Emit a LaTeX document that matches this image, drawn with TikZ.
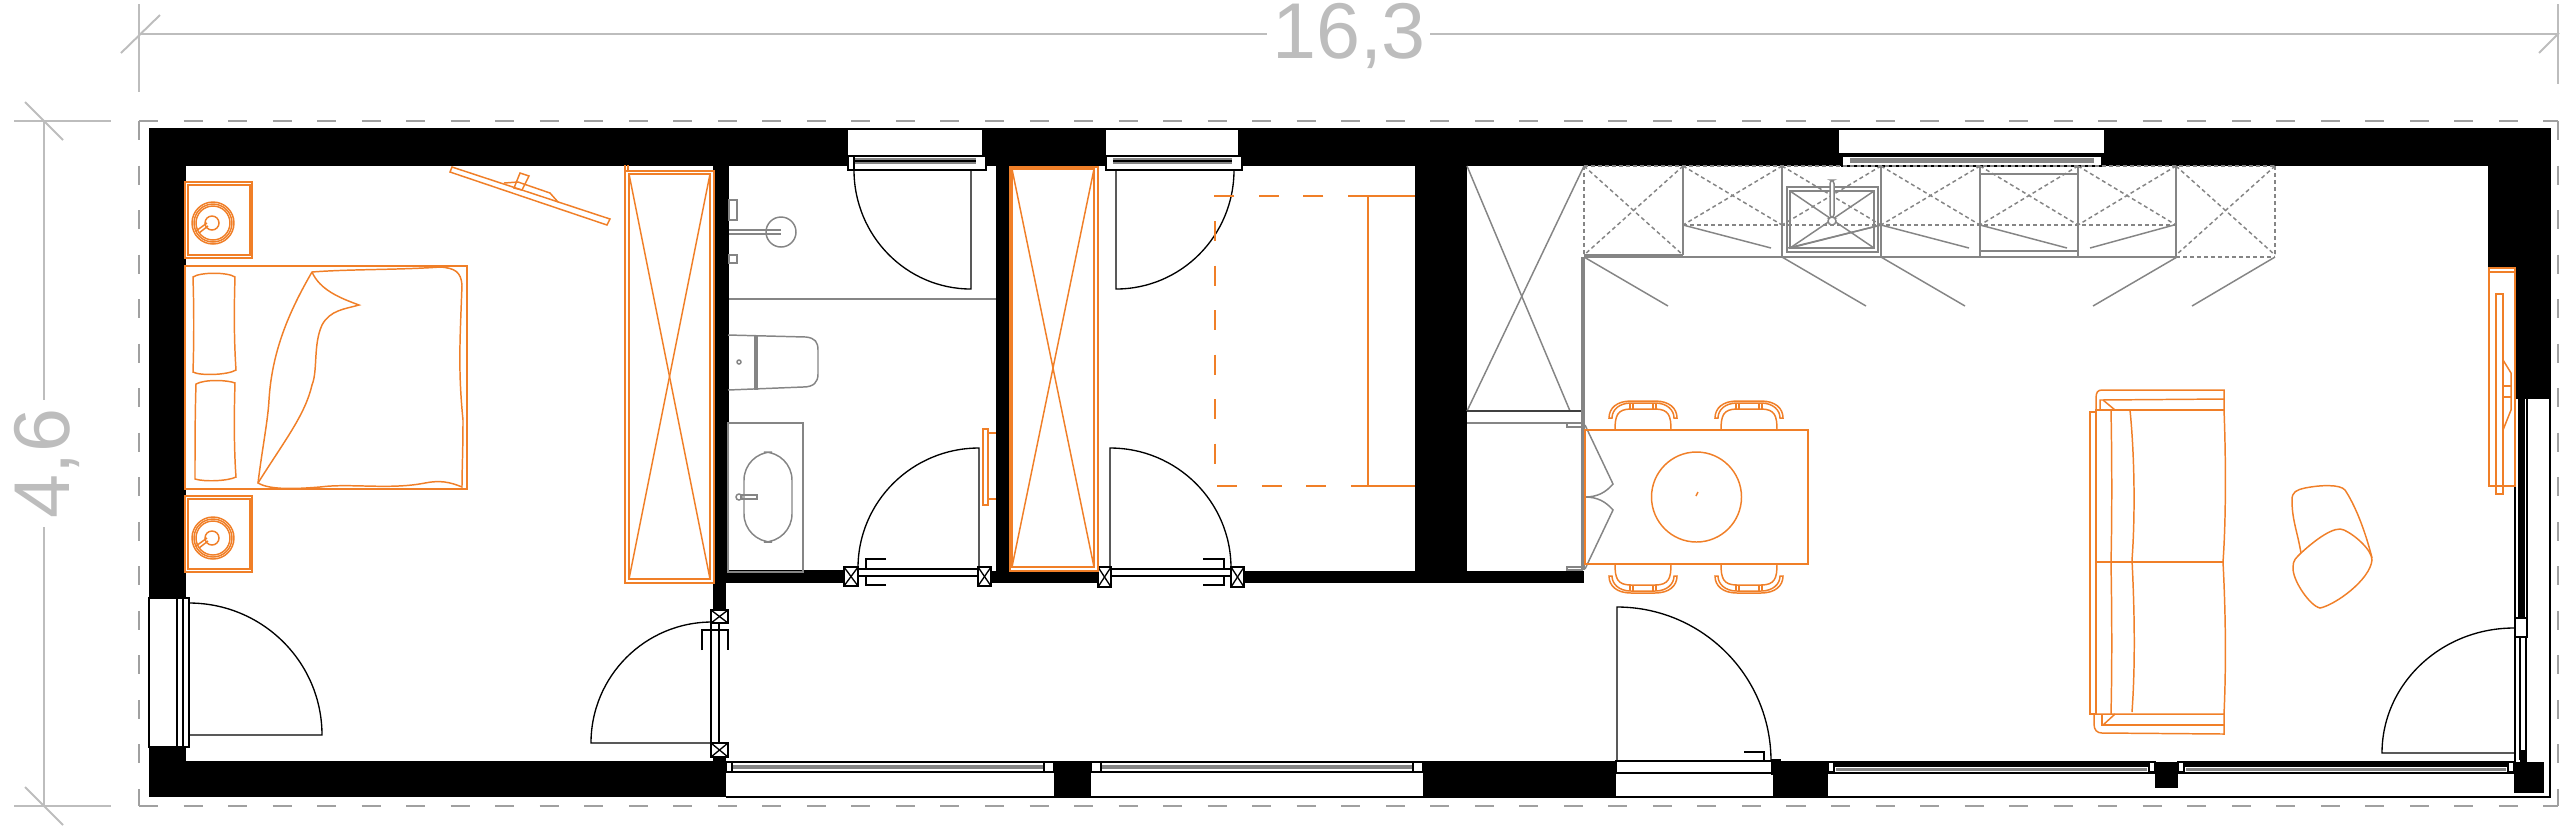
\documentclass[tikz,border=0pt]{standalone}
\usepackage{fontspec}
\setmainfont{Liberation Sans}
\definecolor{planorange}{HTML}{F07F28}
\definecolor{fitgray}{HTML}{858585}
\definecolor{dimgray}{HTML}{BDBDBD}
\definecolor{dashgray}{HTML}{A0A0A0}
\tikzset{
    dimline/.style={draw=dimgray,line width=0.55pt},
    dimtext/.style={text=dimgray,font=\fontsize{22.5pt}{27pt}\selectfont,inner sep=0pt},
    outline/.style={draw=dashgray,line width=0.55pt,dash pattern=on 0.19cm off 0.255cm},
    furn/.style={draw=planorange,line width=0.42pt},
    furnthick/.style={draw=planorange,line width=0.6pt},
    furndash/.style={draw=planorange,line width=0.5pt,dash pattern=on 0.2cm off 0.245cm},
    fitting/.style={draw=fitgray,line width=0.42pt},
    fitdash/.style={draw=fitgray,line width=0.42pt,dash pattern=on 0.04cm off 0.03cm},
    doorline/.style={draw=black,line width=0.38pt},
    jamb/.style={draw=black,line width=0.38pt,fill=white}
}
\begin{document}
\begin{tikzpicture}[x=0.01cm,y=-0.01cm]
    \useasboundingbox (0,0) rectangle (2560,826);

    % dimensions
    \draw [dimline] (139,4) -- (139,92);
    \draw [dimline] (121,53) -- (160,15);
    \draw [dimline] (139,34) -- (1267,34);
    \draw [dimline] (1430,34) -- (2558,34);
    \draw [dimline] (2558,4) -- (2558,84);
    \draw [dimline] (2539,53) -- (2559,33);
    \node [dimtext,anchor=base] (widthlabel) at (1349,58) {16,3};
    \draw [dimline] (14,121) -- (111,121);
    \draw [dimline] (25,102) -- (63,140);
    \draw [dimline] (44,121) -- (44,400);
    \draw [dimline] (44,527) -- (44,806);
    \draw [dimline] (14,806) -- (111,806);
    \draw [dimline] (25,787) -- (63,825);
    \node [dimtext,rotate=90,anchor=base] (depthlabel) at (69,463) {4,6};

    \draw [outline] (139,121) -- (2558,121);
    \draw [outline] (139,121) -- (139,806);
    \draw [outline] (139,806) -- (2558,806);
    \draw [outline] (2558,121) -- (2558,806);

    % walls
    \fill (149,129) rectangle (2549,166);
    \fill (149,129) rectangle (186,598);
    \fill (149,747) rectangle (186,797);
    \fill (149,761) rectangle (726,797);
    \fill (713,166) rectangle (729,583);
    \fill (713,583) rectangle (726,610);
    \fill (713,745) rectangle (726,761);
    \fill (729,570) rectangle (850,583);
    \fill (996,166) rectangle (1010,571);
    \fill (991,571) rectangle (1098,583);
    \fill (1243,571) rectangle (1584,583);
    \fill (1415,166) rectangle (1467,571);
    \fill (2488,166) rectangle (2515,269);
    \fill (2515,166) rectangle (2549,398);
    \fill (1054,761) rectangle (1091,797);
    \fill (1423,761) rectangle (1616,797);
    \fill (1773,761) rectangle (1828,797);
    \fill (2155,762) rectangle (2178,788);
    \fill (2514,762) rectangle (2544,793);
    \draw [doorline] (149,129) -- (2550,129) -- (2550,797) -- (726,797);

    % top windows
    \foreach \xa/\xb in {848/982,1106/1238}{
        \fill [white] (\xa,130) rectangle (\xb,156);
        \draw [jamb] (\xa,156) rectangle (\xb+4,170);
        \fill [fitgray] (\xa+7,158) rectangle (\xb-6,164);
        \draw [doorline] (\xa+7,161) -- (\xb-6,161);
    }
    \fill [white] (1839,130) rectangle (2104,154);
    \draw [doorline] (1839,154) -- (2104,154);
    \draw [jamb] (1842,156) rectangle (2102,166);
    \fill [fitgray] (1850,158) rectangle (2094,163);

    % low windows
    \foreach \xa/\xb in {726/1054,1091/1423}{
        \draw [doorline] (\xa,762) -- (\xb,762);
        \fill [fitgray] (\xa+6,765) rectangle (\xb-8,769);
        \draw [doorline] (\xa,772) -- (\xb,772);
        \draw [jamb] (\xb-10,762) rectangle (\xb,772);
    }
    \foreach \xa/\xb in {1091/1423}
        \draw [jamb] (\xa,762) rectangle (\xa+10,772);
    \draw [jamb] (726,762) rectangle (732,772);
    \foreach \xa/\xb in {1828/2155,2178/2514}{
        \fill (\xa+4,761) rectangle (\xb-4,767);
        \fill [fitgray] (\xa+8,768) rectangle (\xb-8,771);
        \draw [doorline] (\xa,773) -- (\xb,773);
        \draw [jamb] (\xa,762) rectangle (\xa+6,772);
        \draw [jamb] (\xb-6,762) rectangle (\xb,772);
    }

    % right window
    \draw [doorline] (2515,398) -- (2515,762);
    \draw [doorline] (2515,398) -- (2549,398);
    \fill (2518,398) rectangle (2525,617);
    \draw [doorline] (2527,398) -- (2527,618);
    \draw [jamb] (2515,618) rectangle (2527,637);
    \draw [doorline] (2520,637) -- (2520,760);
    \draw [doorline] (2526,637) -- (2526,760);
    \fill (2520,750) rectangle (2527,762);

    % doors
    \draw [jamb] (149,598) rectangle (177,747);
    \draw [jamb] (177,598) rectangle (183,747);
    \draw [jamb] (183,598) rectangle (189,747);
    \draw [doorline] (189,603) arc [start angle=90,end angle=0,x radius=133,y radius=-132] -- (189,735);
    \draw [jamb] (711,623) rectangle (719,743);
    \draw [doorline] (712,622) arc [start angle=90,end angle=180,x radius=121,y radius=-121] -- (712,743);
    \draw [jamb] (848,156) rectangle (854,170);
    \draw [doorline] (971,170) -- (971,289) arc [start angle=270,end angle=180,x radius=117,y radius=-119];
    \draw [doorline] (1116,170) -- (1116,289) arc [start angle=-90,end angle=0,x radius=118,y radius=-119];
    \draw [jamb] (858,569) rectangle (979,576);
    \draw [doorline] (979,568) -- (979,448) arc [start angle=90,end angle=180,x radius=121,y radius=-120];
    \draw [jamb] (1110,569) rectangle (1231,576);
    \draw [doorline] (1110,568) -- (1110,448) arc [start angle=90,end angle=0,x radius=121,y radius=-120];
    \draw [jamb] (1616,761) rectangle (1773,773);
    \draw [doorline] (1617,761) -- (1617,607) arc [start angle=90,end angle=0,x radius=154,y radius=-154];
    \draw [doorline] (2514,753) -- (2382,753) arc [start angle=180,end angle=90,x radius=132,y radius=-125];

    % door jambs
    \foreach \xa/\ya/\xb/\yb in {711/610/728/623,711/743/728/757,844/567/858/586,978/567/991/586,1098/567/1111/587,1231/567/1244/587}{
        \draw [jamb,fill=white] (\xa,\ya) rectangle (\xb,\yb);
        \draw [doorline] (\xa,\ya) -- (\xb,\yb);
        \draw [doorline] (\xa,\yb) -- (\xb,\ya);
    }
    \fill (177,752) rectangle (186,747);
    \fill (1771,759) rectangle (1781,775);

    % door handles
    \draw [doorline,line width=0.6pt] (702,650) -- (702,630) -- (728,630) -- (728,650);
    \draw [doorline,line width=0.6pt] (886,559) -- (866,559) -- (866,569);
    \draw [doorline,line width=0.6pt] (886,585) -- (866,585) -- (866,576);
    \draw [doorline,line width=0.6pt] (1203,559) -- (1224,559) -- (1224,569);
    \draw [doorline,line width=0.6pt] (1203,585) -- (1224,585) -- (1224,576);
    \draw [doorline,line width=0.6pt] (1744,752) -- (1764,752) -- (1764,761);

    % bedroom
    \foreach \ly in {182,496}{
        \draw [furnthick] (185,\ly) rectangle (252,\ly+76);
        \draw [furnthick] (188,\ly+3) rectangle (250,\ly+73);
    }
    \foreach \ly in {223,538}{
        \foreach \lr in {21,19,17}
            \draw [furn] (213,\ly) circle [radius=\lr];
        \draw [furn] (212,\ly) circle [radius=7];
        \draw [furn] (207,\ly) -- (196,\ly+8);
        \draw [furn] (208,\ly+3) -- (199,\ly+10);
    }
    \draw [furn] (185,266) rectangle (467,489);
    \draw [furn] (193,277) .. controls (200,272) and (228,272) .. (235,277) .. controls (234,310) and (234,340) .. (236,370) .. controls (228,375) and (200,376) .. (193,372) .. controls (194,340) and (194,310) .. (193,277) -- cycle;
    \draw [furn] (196,384) .. controls (205,379) and (228,380) .. (235,383) .. controls (234,415) and (234,450) .. (236,477) .. controls (228,481) and (205,482) .. (195,479) .. controls (195,450) and (195,415) .. (196,384) -- cycle;
    \draw [furn] (312,272) .. controls (350,269) and (400,270) .. (440,267) .. controls (455,268) and (461,272) .. (462,285) .. controls (460,340) and (458,370) .. (463,420) .. controls (463,450) and (462,470) .. (462,487) .. controls (450,482) and (440,480) .. (425,483) .. controls (390,490) and (350,483) .. (320,487) .. controls (295,489) and (270,490) .. (258,483) .. controls (262,450) and (268,420) .. (269,400) .. controls (272,350) and (290,310) .. (312,272) -- cycle;
    \draw [furn] (312,272) .. controls (320,290) and (340,298) .. (359,305) .. controls (345,309) and (330,310) .. (322,325) .. controls (313,345) and (318,370) .. (312,385) .. controls (305,415) and (285,440) .. (258,483);
    \draw [furn] (452,167) -- (450,172) -- (607,225) -- (610,219) -- cycle;
    \draw [furn] (504,183) -- (518,182) -- (550,193) -- (558,202);
    \draw [furn] (520,173) -- (529,176) -- (522,190) -- (514,188) -- cycle;

    % wardrobes
    \draw [furn] (625,165) -- (625,583) -- (714,583) -- (714,171) -- (625,171);
    \draw [furn] (628,165) -- (628,171);
    \draw [furnthick] (629,174) rectangle (710,579);
    \draw [furn] (629,174) -- (710,579);
    \draw [furn] (710,174) -- (629,579);
    \draw [furn] (1010,167) rectangle (1098,571);
    \draw [furn] (1012,169) rectangle (1094,567);
    \draw [furn] (1012,169) -- (1094,567);
    \draw [furn] (1094,169) -- (1012,567);
    \draw [furn] (988,433) -- (996,433);
    \draw [furn] (988,499) -- (996,499);
    \draw [furn] (983,429) rectangle (988,505);

    % bed in second room
    \draw [furndash] (1368,196) -- (1215,196) -- (1215,486) -- (1368,486);
    \draw [furn] (1415,196) -- (1368,196) -- (1368,486) -- (1415,486);

    % bathroom
    \draw [fitting] (729,299) -- (996,299);
    \draw [fitting] (781,232) circle [radius=15];
    \draw [fitting] (729,230) -- (781,230);
    \draw [fitting] (729,234) -- (781,234);
    \draw [fitting] (729,200) rectangle (737,220);
    \draw [fitting] (729,255) rectangle (737,263);
    \draw [fitting] (728,335) -- (806,337) .. controls (815,338) and (818,342) .. (818,350) -- (818,374) .. controls (818,382) and (814,387) .. (803,387) -- (728,390);
    \draw [fitting] (755,335) -- (755,390);
    \draw [fitting] (757,335) -- (757,390);
    \draw [fitting] (739,362) circle [radius=2];
    \draw [fitting] (728,423) rectangle (803,572);
    \draw [fitting,rounded corners=8] (744,452) rectangle (792,542);
    \draw [fitting] (739,497) circle [radius=3];
    \draw [fitting] (741,495) rectangle (757,499);

    % kitchen
    \draw [fitting] (1467,166) -- (1570,411);
    \draw [fitting] (1584,166) -- (1467,411);
    \draw [draw=black!75,line width=0.6pt] (1467,411) -- (1584,411);
    \draw [fitting] (1467,423) -- (1584,423);
    \draw [fitting] (1582,257) -- (1582,570);
    \draw [fitting] (1584,257) -- (1584,570);
    \draw [fitting] (1567,423) rectangle (1582,427);
    \draw [fitting] (1567,567) rectangle (1582,570);
    \draw [fitting] (1585,425) -- (1613,484) .. controls (1606,492) and (1598,497) .. (1585,497);
    \draw [fitting] (1585,497) .. controls (1598,497) and (1606,502) .. (1613,510) -- (1585,569);
    \foreach \xa/\xb in {1683/1782,1782/1881,1881/1980,1980/2078,2078/2176}{
        \draw [fitdash] (\xa,166) -- (\xb,225);
        \draw [fitdash] (\xb,166) -- (\xa,225);
    }
    \foreach \xa/\xb in {1584/1683,2176/2275}{
        \draw [fitdash] (\xa,166) -- (\xb,255);
        \draw [fitdash] (\xb,166) -- (\xa,255);
    }
    \draw [fitdash] (1683,225) -- (2176,225);
    \draw [fitdash] (1584,166) -- (1584,257);
    \draw [fitdash] (2275,166) -- (2275,257);
    \draw [fitdash] (2176,257) -- (2275,257);
    \draw [fitdash] (1584,166) -- (2275,166);
    \foreach \cabx in {1782,1881,1980,2078}
        \draw [fitting] (\cabx,166) -- (\cabx,257);
    \draw [fitting,line width=0.7pt] (1683,166) -- (1683,255);
    \draw [fitting,line width=0.7pt] (2176,166) -- (2176,257);
    \draw [fitting,line width=0.7pt] (1584,255) -- (1683,255);
    \draw [fitting] (1584,257) -- (2176,257);
    \draw [fitting] (1980,174) -- (2078,174);
    \draw [fitting] (1980,251) -- (2078,251);
    \foreach \xa/\xb in {1683/1771,1881/1788,1881/1969,1980/2067,2174/2090}
        \draw [fitting] (\xa,225) -- (\xb,248);
    \foreach \xa/\xb in {1584/1668,1782/1866,1881/1965,2177/2093,2275/2192}
        \draw [fitting] (\xa,257) -- (\xb,306);
    \draw [fitting,line width=0.6pt] (1787,187) rectangle (1878,252);
    \draw [fitting,line width=0.6pt] (1790,191) rectangle (1874,248);
    \draw [fitting] (1790,191) -- (1874,248);
    \draw [fitting] (1874,191) -- (1790,248);
    \draw [fitting] (1790,248) -- (1881,225);
    \draw [fitting,rounded corners=1,fill=white] (1830,180) rectangle (1834,218);
    \draw [fitting,fill=white] (1832,221) circle [radius=4];

    % table and chairs
    \draw [furnthick] (1585,430) rectangle (1808,564);
    \draw [furn] (1696.5,497) circle [radius=45];
    \draw [furn] (1696,496) -- (1698,492);
    \foreach \cx/\cy/\cs in {1643/430/-1,1749/430/-1,1643/564/1,1749/564/1}{
        \begin{scope}[shift={(\cx,\cy)},yscale=\cs]
            \draw [furn] (-28,0) .. controls (-28,14) and (-26,21) .. (-12,21) -- (12,21) .. controls (26,21) and (28,14) .. (28,0);
            \draw [furn] (-34,12) .. controls (-34,22) and (-26,29) .. (-12,29) -- (12,29) .. controls (26,29) and (34,22) .. (34,12) -- (31,12) .. controls (31,20) and (24,27) .. (12,27) -- (-12,27) .. controls (-24,27) and (-31,20) .. (-31,12) -- cycle;
            \draw [furn] (-13,21) -- (-13,27);
            \draw [furn] (-10,21) -- (-10,27);
            \draw [furn] (10,21) -- (10,27);
            \draw [furn] (13,21) -- (13,27);
        \end{scope}
    }

    % sofa
    \draw [furn] (2090,412) rectangle (2096,714);
    \draw [furn] (2096,562) .. controls (2096,500) and (2096,450) .. (2096,410) -- (2224,410);
    \draw [furn] (2224,410) .. controls (2226,460) and (2226,520) .. (2223,562) .. controls (2226,620) and (2226,670) .. (2224,714) -- (2096,714) -- (2096,562);
    \draw [furn] (2096,562) -- (2223,562);
    \draw [furn] (2111,410) .. controls (2112,460) and (2112,520) .. (2111,562) .. controls (2112,620) and (2112,670) .. (2111,714);
    \draw [furn] (2130,410) .. controls (2135,460) and (2135,520) .. (2132,560) .. controls (2135,620) and (2135,670) .. (2132,712);
    \draw [furn] (2096,410) -- (2096,398) .. controls (2096,392) and (2098,390) .. (2102,390) -- (2224,390) -- (2224,410);
    \draw [furn] (2100,410) -- (2100,400) -- (2224,399);
    \draw [furn] (2103,400) -- (2115,410);
    \draw [furn] (2094,714) -- (2094,724) .. controls (2094,730) and (2097,733) .. (2102,733) -- (2224,734) -- (2224,714);
    \draw [furn] (2102,714) -- (2102,725) -- (2224,725);
    \draw [furn] (2103,725) -- (2115,714);

    % armchair
    \draw [furn] (2301,553) .. controls (2297,530) and (2292,520) .. (2292,500) .. controls (2292,492) and (2296,490) .. (2305,488) .. controls (2320,485) and (2340,484) .. (2345,490) .. controls (2355,505) and (2365,530) .. (2372,558);
    \draw [furn] (2301,553) .. controls (2315,540) and (2335,525) .. (2344,530) .. controls (2355,535) and (2372,550) .. (2372,560) .. controls (2370,580) and (2335,605) .. (2320,608) .. controls (2310,606) and (2292,580) .. (2293,567) .. controls (2293,560) and (2296,558) .. (2301,553) -- cycle;

    % shelf on the right wall
    \draw [furn,fill=white] (2489,268) rectangle (2515,486);
    \draw [furn] (2489,272) -- (2515,272);
    \draw [furn] (2496,294) rectangle (2503,494);
    \draw [furn] (2503,360) -- (2511,373) -- (2511,410) -- (2503,430);
    \draw [furn] (2503,386) -- (2511,386);
    \draw [furn] (2503,397) -- (2511,397);
\end{tikzpicture}
\end{document}
